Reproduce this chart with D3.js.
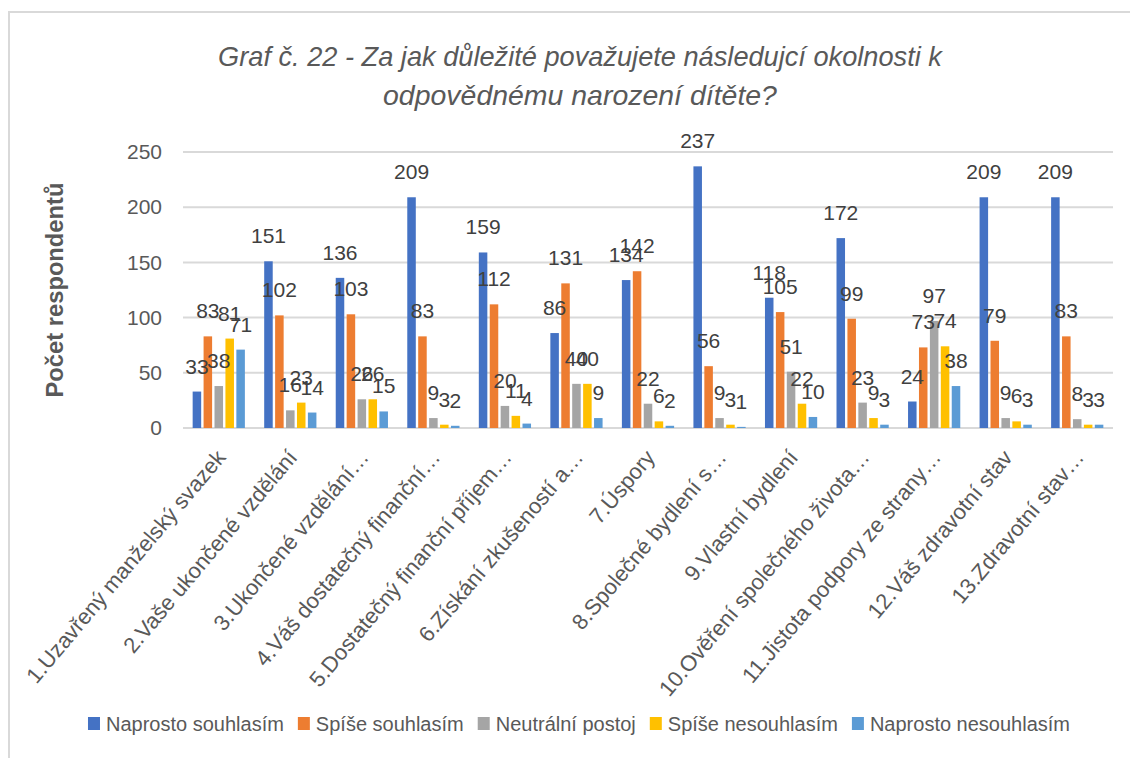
<!DOCTYPE html>
<html>
<head>
<meta charset="utf-8">
<script src="https://cdn.jsdelivr.net/npm/d3@7"></script>
<style>
  body { margin: 0; background: #fff; }
  text { font-family: 'Liberation Sans', Arial, sans-serif; }
</style>
</head>
<body>
<div id="chart-container"></div>
<script>
// data
const categories = [
  '1.Uzavřený manželský svazek',
  '2.Vaše ukončené vzdělání',
  '3.Ukončené vzdělání…',
  '4.Váš dostatečný finanční…',
  '5.Dostatečný finanční příjem…',
  '6.Získání zkušeností a…',
  '7.Úspory',
  '8.Společné bydlení s…',
  '9.Vlastní bydlení',
  '10.Ověření společného života…',
  '11.Jistota podpory ze strany…',
  '12.Váš zdravotní stav',
  '13.Zdravotní stav…'
]
const seriesNames = ['Naprosto souhlasím', 'Spíše souhlasím', 'Neutrální postoj', 'Spíše nesouhlasím', 'Naprosto nesouhlasím']
const naprostoSouhlasim = [33, 151, 136, 209, 159, 86, 134, 237, 118, 172, 24, 209, 209]
const spiseSouhlasim = [83, 102, 103, 83, 112, 131, 142, 56, 105, 99, 73, 79, 83]
const neutralniPostoj = [38, 16, 26, 9, 20, 40, 22, 9, 51, 23, 97, 9, 8]
const spiseNesouhlasim = [81, 23, 26, 3, 11, 40, 6, 3, 22, 9, 74, 6, 3]
const naprostoNesouhlasim = [71, 14, 15, 2, 4, 9, 2, 1, 10, 3, 38, 3, 3]
const yTicks = [0, 50, 100, 150, 200, 250]
const titleLines = ['Graf č. 22 - Za jak důležité považujete následujcí okolnosti k', 'odpovědnému narození dítěte?']
const yTitle = 'Počet respondentů'

const seriesValues = [naprostoSouhlasim, spiseSouhlasim, neutralniPostoj, spiseNesouhlasim, naprostoNesouhlasim]
const colors = ['#4472C4', '#ED7D31', '#A5A5A5', '#FFC000', '#5B9BD5']

const width = 1130
const height = 758
const plot = {left: 183, right: 1113, top: 152, bottom: 428}

// shrink or grow font so the text takes a given width
function fitWidth (sel, target) {
  sel.each(function () {
    const size = parseFloat(this.getAttribute('font-size'))
    const w = this.getComputedTextLength()
    this.setAttribute('font-size', (size * target / w).toFixed(2))
  })
}

const svg = d3.select('#chart-container')
  .append('svg')
  .attr('width', width)
  .attr('height', height)

svg.append('rect')
  .attr('x', 9).attr('y', 12)
  .attr('width', 1300).attr('height', 900)
  .attr('fill', 'none')
  .attr('stroke', '#d9d9d9')
  .attr('stroke-width', 2)

// title
const titleWidths = [724, 394]
titleLines.forEach((line, i) => {
  svg.append('text')
    .attr('x', 580)
    .attr('y', 66 + i * 39)
    .attr('text-anchor', 'middle')
    .attr('font-size', 24)
    .attr('font-style', 'italic')
    .attr('fill', '#595959')
    .text(line)
    .call(fitWidth, titleWidths[i])
})

const x0 = d3.scaleBand()
  .domain(categories)
  .range([plot.left, plot.right])
  .paddingInner(0.27)
  .paddingOuter(0.135)

const x1 = d3.scaleBand()
  .domain(seriesNames)
  .range([0, x0.bandwidth()])
  .paddingInner(0.22)

const y = d3.scaleLinear()
  .domain([0, 250])
  .range([plot.bottom, plot.top])

// gridlines
svg.append('g')
  .selectAll('line')
  .data(yTicks)
  .enter()
  .append('line')
  .attr('x1', plot.left)
  .attr('x2', plot.right)
  .attr('y1', d => y(d))
  .attr('y2', d => y(d))
  .attr('stroke', '#d9d9d9')
  .attr('stroke-width', 2)

const yAxis = svg.append('g')
  .attr('transform', `translate(${plot.left - 8}, 0)`)
  .call(d3.axisLeft(y).tickValues(yTicks).tickSize(0).tickPadding(13))
yAxis.select('.domain').remove()
yAxis.selectAll('text')
  .attr('font-size', 21)
  .attr('fill', '#595959')
  .style('font-family', "'Liberation Sans', Arial, sans-serif")

// y title
svg.append('text')
  .attr('transform', 'translate(63, 290) rotate(-90)')
  .attr('text-anchor', 'middle')
  .attr('font-size', 20)
  .attr('font-weight', 'bold')
  .attr('fill', '#595959')
  .text(yTitle)
  .call(fitWidth, 215)

// bars
const groups = svg.append('g')
  .selectAll('g')
  .data(categories)
  .enter()
  .append('g')
  .attr('transform', d => `translate(${x0(d)}, 0)`)

groups.selectAll('rect')
  .data((d, i) => seriesNames.map((s, j) => ({s, v: seriesValues[j][i], c: colors[j]})))
  .enter()
  .append('rect')
  .attr('x', d => x1(d.s))
  .attr('width', x1.bandwidth())
  .attr('y', d => y(d.v))
  .attr('height', d => y(0) - y(d.v))
  .attr('fill', d => d.c)

groups.selectAll('text')
  .data((d, i) => seriesNames.map((s, j) => ({s, v: seriesValues[j][i]})))
  .enter()
  .append('text')
  .attr('x', d => x1(d.s) + x1.bandwidth() / 2)
  .attr('y', d => y(d.v) - 18)
  .attr('text-anchor', 'middle')
  .attr('font-size', 21)
  .attr('fill', '#404040')
  .text(d => d.v)

// category labels
svg.append('g')
  .selectAll('text')
  .data(categories)
  .enter()
  .append('text')
  .attr('transform', d => `translate(${x0(d) + x0.bandwidth() / 2 + 8}, 458) rotate(-50)`)
  .attr('text-anchor', 'end')
  .attr('font-size', 22)
  .attr('fill', '#595959')
  .text(d => d)

// legend
const legend = svg.append('g')
const items = legend.selectAll('g')
  .data(seriesNames)
  .enter()
  .append('g')
items.append('rect')
  .attr('width', 12).attr('height', 13)
  .attr('y', -7)
  .attr('fill', (d, i) => colors[i])
items.append('text')
  .attr('x', 18)
  .attr('dy', '0.36em')
  .attr('font-size', 20)
  .attr('fill', '#595959')
  .text(d => d)

let pos = 0
items.each(function () {
  d3.select(this).attr('transform', `translate(${pos}, 0)`)
  pos += 18 + d3.select(this).select('text').node().getComputedTextLength() + 14
})
pos -= 14
legend.attr('transform', `translate(${579 - pos / 2}, 724)`)
</script>
</body>
</html>
